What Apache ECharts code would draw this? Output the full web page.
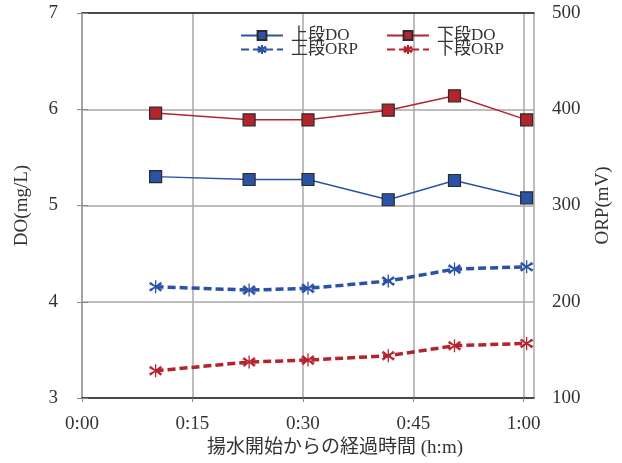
<!DOCTYPE html>
<html><head><meta charset="utf-8">
<script src="https://cdn.jsdelivr.net/npm/echarts@6/dist/echarts.min.js"></script>
<style>html,body{margin:0;padding:0;background:#fff}#c{width:622px;height:463px}</style>
</head><body><div id="c"></div>
<script>
const timesMin = [10, 22.7, 30.7, 41.6, 50.6, 60.4];
const upperDO = [5.30, 5.27, 5.27, 5.06, 5.26, 5.08];
const lowerDO = [5.96, 5.89, 5.89, 5.99, 6.14, 5.89];
const upperORP = [215.6, 212.1, 213.9, 221.5, 233.9, 236.3];
const lowerORP = [128.3, 137.4, 139.4, 143.9, 154.3, 156.7];
const xTickMinutes = [0, 15, 30, 45, 60];
const names = ['上段DO', '下段DO', '上段ORP', '下段ORP'];

const FONT = '"Liberation Serif", "Noto Sans CJK JP", serif';
const BLUE = '#2A52A6', RED = '#B3242F';
const ASTER = 'path://M5,0 L5,10 M0.8,2.5 L9.2,7.5 M9.2,2.5 L0.8,7.5 M1.5,1.5 L8.5,8.5 M8.5,1.5 L1.5,8.5';
const pair = (xs, ys) => xs.map((x, i) => [x, ys[i]]);
const fmtTime = v => {
  if (!xTickMinutes.includes(Math.round(v)) || Math.abs(v - Math.round(v)) > 1e-6) return '';
  const h = Math.floor(v / 60), m = v % 60;
  return h + ':' + String(m).padStart(2, '0');
};

const chart = echarts.init(document.getElementById('c'), null, {renderer: 'canvas'});
const doSeries = (name, data, color) => ({
  name, type: 'line', data, yAxisIndex: 0, symbol: 'rect', symbolSize: 12,
  lineStyle: {color, width: 1.5}, itemStyle: {color, borderColor: '#2b2b2b', borderWidth: 1.2},
  emphasis: {disabled: true}, z: 5
});
const orpSeries = (name, data, color) => ({
  name, type: 'line', data, yAxisIndex: 1, symbol: ASTER, symbolSize: 13,
  lineStyle: {color, width: 3.5, type: [8, 4]},
  itemStyle: {color: 'none', borderColor: color, borderWidth: 1.3},
  emphasis: {disabled: true}, z: 4
});
const leg = (name, left, top) => ({
  data: [name], left, top, padding: 0, itemWidth: 42, itemHeight: 11, itemGap: 0,
  textStyle: {fontFamily: FONT, fontSize: 17, color: '#333', padding: [0, 0, 0, 3]}
});
chart.setOption({
  animation: false,
  textStyle: {fontFamily: FONT},
  grid: {left: 82, right: 88, top: 13, bottom: 65, containLabel: false},
  legend: [
    leg(names[0], 240, 27), leg(names[1], 386, 27),
    leg(names[2], 240, 41), leg(names[3], 386, 41)
  ],
  xAxis: [{
    type: 'value', min: 0, max: 61.4, interval: 15,
    name: '揚水開始からの経過時間 (h:m)', nameLocation: 'middle', nameGap: 37,
    nameTextStyle: {fontFamily: FONT, fontSize: 19, color: '#333', padding: [0, 0, 0, 54]},
    axisLine: {lineStyle: {color: '#222', width: 1.5}},
    axisTick: {show: true, length: 4, lineStyle: {color: '#888'}},
    axisLabel: {formatter: fmtTime, showMaxLabel: false, fontFamily: FONT, fontSize: 19, color: '#333', margin: 17},
    splitLine: {show: true, lineStyle: {color: '#a8a8a8', width: 1.5}}
  }, {
    type: 'value', min: 0, max: 61.4, position: 'top',
    axisLine: {show: true, onZero: false, lineStyle: {color: '#222', width: 1.5}},
    axisTick: {show: false}, axisLabel: {show: false}, splitLine: {show: false}
  }],
  yAxis: [{
    type: 'value', min: 3, max: 7, interval: 1, position: 'left',
    name: 'DO(mg/L)', nameLocation: 'middle', nameGap: 50, nameRotate: 90,
    nameTextStyle: {fontFamily: FONT, fontSize: 19, color: '#333'},
    axisLine: {show: true, lineStyle: {color: '#888', width: 1.5}},
    axisTick: {show: true, length: 5, lineStyle: {color: '#888'}},
    axisLabel: {fontFamily: FONT, fontSize: 19, color: '#333', margin: 24},
    splitLine: {show: true, lineStyle: {color: '#a8a8a8', width: 1.5}}
  }, {
    type: 'value', min: 100, max: 500, interval: 100, position: 'right',
    name: 'ORP(mV)', nameLocation: 'middle', nameGap: 60, nameRotate: 90,
    nameTextStyle: {fontFamily: FONT, fontSize: 19, color: '#333'},
    axisLine: {show: true, lineStyle: {color: '#aaa', width: 1.5}},
    axisTick: {show: true, length: 6, lineStyle: {color: '#888'}},
    axisLabel: {fontFamily: FONT, fontSize: 19, color: '#333', margin: 18},
    splitLine: {show: false}
  }],
  series: [
    doSeries(names[0], pair(timesMin, upperDO), BLUE),
    doSeries(names[1], pair(timesMin, lowerDO), RED),
    orpSeries(names[2], pair(timesMin, upperORP), BLUE),
    orpSeries(names[3], pair(timesMin, lowerORP), RED)
  ]
});
</script></body></html>
